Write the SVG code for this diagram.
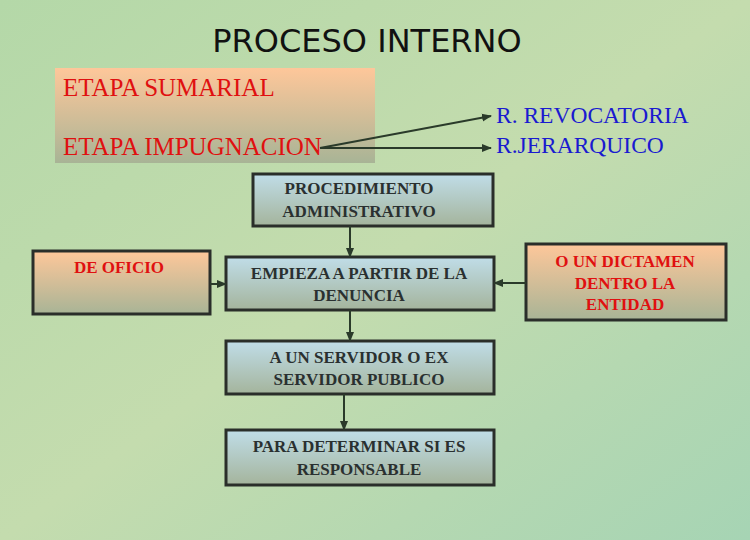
<svg xmlns="http://www.w3.org/2000/svg" width="750" height="540" viewBox="0 0 750 540">
<defs>
<linearGradient id="bg" x1="0" y1="0" x2="1" y2="1"><stop offset="0" stop-color="#b4d8a8"/><stop offset="0.5" stop-color="#c4dcae"/><stop offset="1" stop-color="#a6d4b4"/></linearGradient>
<linearGradient id="peach" x1="0" y1="0" x2="0" y2="1"><stop offset="0" stop-color="#fec79a"/><stop offset="1" stop-color="#a8b496"/></linearGradient>
<linearGradient id="blue" x1="0" y1="0" x2="0" y2="1"><stop offset="0" stop-color="#c0dde8"/><stop offset="1" stop-color="#a4b49c"/></linearGradient>
<marker id="ah" viewBox="0 0 10 10" refX="9" refY="5" markerWidth="5" markerHeight="5" orient="auto"><path d="M0,1 L10,5 L0,9 z" fill="#2a3a2a"/></marker>
<style>
.box{stroke:#2a2e2a;stroke-width:3}
.t{font-family:"Liberation Serif",serif;font-weight:bold;font-size:17px;text-anchor:middle;fill:#2a3030}
.r{font-family:"Liberation Serif",serif;font-weight:bold;font-size:17px;text-anchor:middle;fill:#e01010}
.c{stroke:#2a3a2a;stroke-width:2;fill:none;marker-end:url(#ah)}
</style>
</defs>
<rect width="750" height="540" fill="url(#bg)"/>
<text x="367" y="52" font-family="DejaVu Sans, sans-serif" font-size="32" text-anchor="middle" fill="#111">PROCESO INTERNO</text>
<g id="etapas">
<rect x="55" y="68" width="320" height="95" fill="url(#peach)"/>
<text x="63" y="96" font-family="Liberation Serif, serif" font-size="25" fill="#e01010">ETAPA SUMARIAL</text>
<text x="63" y="155" font-family="Liberation Serif, serif" font-size="25" fill="#e01010">ETAPA IMPUGNACION</text>
</g>
<g id="recursos" font-family="Liberation Serif, serif" font-size="23.5" fill="#1a1ad0">
<text x="496" y="123">R. REVOCATORIA</text>
<text x="496" y="153">R.JERARQUICO</text>
</g>
<g id="procedimiento"><rect class="box" x="253" y="174" width="240" height="52" fill="url(#blue)"/>
<text class="t" x="359" y="194">PROCEDIMIENTO</text><text class="t" x="359" y="217">ADMINISTRATIVO</text></g>
<g id="oficio"><rect class="box" x="33" y="251" width="177" height="63" fill="url(#peach)"/>
<text class="r" x="119" y="273">DE OFICIO</text></g>
<g id="empieza"><rect class="box" x="226" y="257" width="268" height="53" fill="url(#blue)"/>
<text class="t" x="359" y="279">EMPIEZA A PARTIR DE LA</text><text class="t" x="359" y="301">DENUNCIA</text></g>
<g id="dictamen"><rect class="box" x="526" y="244" width="200" height="76" fill="url(#peach)"/>
<text class="r" x="625" y="267">O UN DICTAMEN</text><text class="r" x="625" y="289">DENTRO LA</text><text class="r" x="625" y="310">ENTIDAD</text></g>
<g id="servidor"><rect class="box" x="226" y="341" width="268" height="53" fill="url(#blue)"/>
<text class="t" x="359" y="363">A UN SERVIDOR O EX</text><text class="t" x="359" y="385">SERVIDOR PUBLICO</text></g>
<g id="determinar"><rect class="box" x="226" y="430" width="268" height="55" fill="url(#blue)"/>
<text class="t" x="359" y="452">PARA DETERMINAR SI ES</text><text class="t" x="359" y="475">RESPONSABLE</text></g>
<g id="connectors">
<path class="c" d="M320,148 L491,116"/>
<path class="c" d="M320,148 L491,148"/>
<path class="c" d="M350,226 L350,257"/>
<path class="c" d="M210,284 L226,284"/>
<path class="c" d="M526,283 L494,283"/>
<path class="c" d="M350,310 L350,341"/>
<path class="c" d="M344,394 L344,430"/>
</g>
</svg>
